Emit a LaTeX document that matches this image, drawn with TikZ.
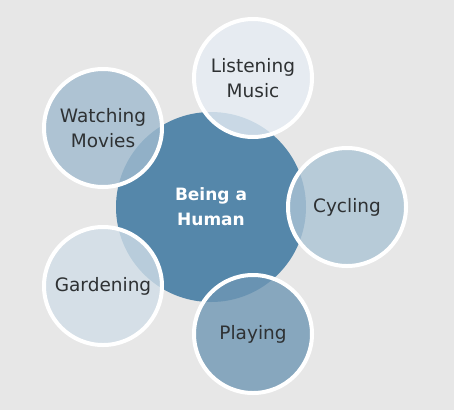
\documentclass[tikz,border=0pt]{standalone}
\usepackage{fontspec}
\setmainfont{DejaVu Sans}
\definecolor{bgGray}{HTML}{E7E7E7}
\definecolor{hubBlue}{HTML}{5587AA}
\definecolor{textGray}{HTML}{2E3133}
\definecolor{musicFill}{HTML}{E6EDF4}
\definecolor{moviesFill}{HTML}{A0BBCF}
\definecolor{cyclingFill}{HTML}{ACC4D5}
\definecolor{playingFill}{HTML}{6F97B4}
\definecolor{gardenFill}{HTML}{D1DEE8}

\begin{document}
\begin{tikzpicture}[x=1pt, y=-1pt,
	hub/.style={circle, fill=hubBlue, minimum size=190pt, inner sep=0pt, text=white, font=\bfseries\fontsize{17}{25}\selectfont, align=center},
	leaf/.style={circle, draw=white, line width=4pt, fill opacity=0.8, text opacity=1, minimum size=118pt, inner sep=0pt, text=textGray, font=\fontsize{18.5}{25}\selectfont, align=center}]
	% Background:
	\fill[bgGray] (0, 0) rectangle (454, 410);
	% Centre and the five activities:
	\node[hub] (human) at (211, 207) {Being a\\Human};
	\node[leaf, fill=musicFill] (music) at (253, 78) {Listening\\Music};
	\node[leaf, fill=moviesFill] (movies) at (103, 128) {Watching\\Movies};
	\node[leaf, fill=cyclingFill] (cycling) at (347, 207) {Cycling};
	\node[leaf, fill=playingFill] (playing) at (253, 334) {Playing};
	\node[leaf, fill=gardenFill] (garden) at (103, 286) {Gardening};
\end{tikzpicture}
\end{document}
